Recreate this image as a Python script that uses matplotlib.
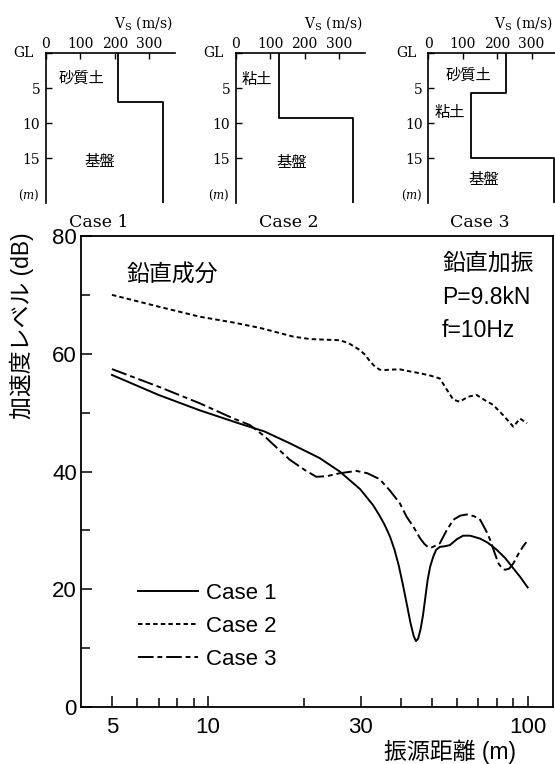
import matplotlib
matplotlib.use('Agg')
import matplotlib.pyplot as plt
from matplotlib.ticker import FixedLocator, NullFormatter

plt.rcParams['font.family'] = ['Liberation Sans', 'Noto Sans CJK JP']
plt.rcParams['mathtext.fontset'] = 'dejavuserif'

# ---- soil profiles (top panels) ----
profile_names = ['Case 1', 'Case 2', 'Case 3']
vs_case1 = [210, 340]
top_case1 = [0, 7.0]
vs_case2 = [125, 340]
top_case2 = [0, 9.3]
vs_case3 = [225, 125, 365]
top_case3 = [0, 5.7, 15.0]
depth_ticks = [0, 5, 10, 15]
vs_ticks = [0, 100, 200, 300]

# ---- attenuation curves (main panel) ----
dist_case1 = [5, 7, 9.4, 12.6, 15, 18.0, 22.3, 25.8, 29.9, 32.8, 34.4, 35.7, 37.1, 38.3,
              39.5, 40.6, 41.8, 43.0, 44.0, 44.7, 45.4, 46.2, 47.0, 47.8, 48.6, 49.5,
              50.6, 51.7, 53.1, 55.0, 57.1, 60.0, 62.8, 66.0, 71.0, 75.0, 80.0, 85.0,
              90.0, 95.0, 100.0]
db_case1 = [56.4, 53.0, 50.4, 48.1, 46.8, 44.8, 42.3, 40.0, 37.0, 34.3, 32.5, 30.9, 28.9,
            26.7, 24.0, 21.0, 17.6, 14.2, 12.0, 11.2, 11.6, 13.2, 15.5, 18.5, 21.5, 23.8,
            25.5, 26.7, 27.2, 27.3, 27.5, 28.5, 29.1, 29.1, 28.6, 27.9, 26.7, 25.3,
            23.6, 22.0, 20.3]

dist_case2 = [5, 7, 9.4, 12, 14.5, 18.5, 20.8, 23, 25.8, 27.5, 29.9, 31, 32, 33, 34.4,
              35.5, 37, 39.8, 42.8, 45.9, 49.5, 53.1, 56, 58.5, 61.3, 65, 69.2, 73, 78,
              84, 90.2, 94.6, 99.5]
db_case2 = [70.0, 68.0, 66.3, 65.3, 64.4, 62.9, 62.5, 62.4, 62.3, 61.8, 60.6, 59.8, 58.8,
            58.0, 57.3, 57.2, 57.3, 57.35, 57.0, 56.7, 56.3, 55.8, 53.8, 52.2, 51.85,
            52.7, 53.0, 52.2, 51.3, 49.5, 47.6, 49.0, 48.2]

dist_case3 = [5, 7, 9.4, 12, 13.5, 15, 18.0, 20, 21.8, 23.5, 25.8, 29.1, 31.5, 34.4, 37,
              39.8, 41.8, 43.9, 46, 47.5, 48.9, 50, 51, 53.1, 55.5, 58.5, 61.5, 64.4, 68,
              71, 74, 76.3, 79, 81, 83, 84.9, 87.5, 90.2, 93.5, 96.8, 99]
db_case3 = [57.4, 54.4, 51.6, 49.0, 47.9, 46.0, 42.0, 40.3, 39.1, 39.2, 39.7, 40.1, 39.7,
            38.7, 36.8, 34.6, 32.3, 30.6, 28.7, 27.7, 27.1, 27.1, 27.3, 27.8, 29.8, 31.8,
            32.5, 32.7, 32.4, 31.8, 30.0, 28.4, 26.0, 24.4, 23.6, 23.3, 23.5, 24.4, 26.0,
            27.3, 28.0]

x_major = [5, 10, 30, 100]
x_minor = [6, 7, 8, 9, 20, 40, 50, 60, 70, 80, 90]

W, H = 555, 764
fig = plt.figure(figsize=(W / 100, H / 100), dpi=100)

serif = 'DejaVu Serif'
cjk = 'Noto Sans CJK JP'
depth_max = 21.4

# top panel boxes in pixels: left, width, vs max
panel_px = [(45.7, 129.4, 375), (235.7, 129.0, 375), (428.3, 126.7, 368)]
profiles = [(vs_case1, top_case1), (vs_case2, top_case2), (vs_case3, top_case3)]
layer_labels = [
    [('砂質土', 105, 3.5), ('基盤', 157, 15.5)],
    [('粘土', 61, 3.8), ('基盤', 163, 15.6)],
    [('砂質土', 116, 3.1), ('粘土', 63, 8.5), ('基盤', 160, 18.1)],
]

for (left, width, vmax), (vs, tops), labels, name in zip(panel_px, profiles, layer_labels, profile_names):
    a = fig.add_axes([left / W, 1 - 203.0 / H, width / W, 149.7 / H])
    xs, ys = [], []
    bottoms = tops[1:] + [depth_max + 5]
    for v, t, b in zip(vs, tops, bottoms):
        xs += [v, v]
        ys += [t, b]
    a.plot(xs, ys, color='black', lw=1.3)
    a.set_xlim(0, vmax)
    a.set_ylim(depth_max, 0)
    for s in ['right', 'bottom']:
        a.spines[s].set_visible(False)
    for s in ['left', 'top']:
        a.spines[s].set_linewidth(1.2)
    a.xaxis.tick_top()
    a.set_xticks(vs_ticks)
    a.set_xticklabels([str(v) for v in vs_ticks], family=serif, fontsize=10)
    a.set_yticks(depth_ticks)
    a.set_yticklabels([''] + [str(d) for d in depth_ticks[1:]], family=serif, fontsize=10)
    a.tick_params(axis='x', direction='in', length=4, width=1, pad=1.5)
    a.tick_params(axis='y', direction='in', length=4, width=1, pad=4)
    a.text(-0.09, 0, 'GL', transform=a.get_yaxis_transform(), ha='right', va='center',
           family=serif, fontsize=10)
    a.text(-0.05, 20.3, '($m$)', transform=a.get_yaxis_transform(), ha='right', va='center',
           family=serif, fontsize=8.5)
    a.text(0.98, 1.2, r'V$_\mathrm{S}$ (m/s)', transform=a.transAxes, ha='right', va='center',
           family=serif, fontsize=10)
    a.text(0.41, -0.13, name, transform=a.transAxes, ha='center', va='center',
           family=serif, fontsize=12.5)
    for txt, xv, yv in labels:
        a.text(xv, yv, txt, ha='center', va='center', family=cjk, fontsize=11)

# ---- main chart ----
ax = fig.add_axes([81 / W, 57 / H, 472 / W, 471 / H])
ax.plot(dist_case1, db_case1, color='black', lw=1.4, label='Case 1')
ax.plot(dist_case2, db_case2, color='black', lw=1.4, dashes=(2.3, 1.6), label='Case 2')
ax.plot(dist_case3, db_case3, color='black', lw=1.4, dashes=(8, 2, 2.5, 2), label='Case 3')

ax.set_xscale('log')
ax.set_xlim(4, 120)
ax.set_ylim(0, 80)
ax.xaxis.set_major_locator(FixedLocator(x_major))
ax.xaxis.set_minor_locator(FixedLocator(x_minor))
ax.xaxis.set_minor_formatter(NullFormatter())
ax.set_xticklabels([str(v) for v in x_major])
ax.set_yticks([0, 20, 40, 60, 80])
ax.set_yticks([10, 30, 50, 70], minor=True)
ax.tick_params(which='major', direction='in', length=8, width=1.1, labelsize=16)
ax.tick_params(which='minor', direction='in', length=6.5, width=1.1)
ax.tick_params(axis='x', which='major', pad=7)
ax.tick_params(axis='y', which='major', pad=3)
for s in ax.spines.values():
    s.set_linewidth(1.3)

ax.set_xlabel('振源距離 (m)', fontsize=16.5, va='center')
ax.xaxis.set_label_coords(0.782, -0.096)
ax.set_ylabel('加速度レベル (dB)', fontsize=16.5, va='center')
ax.yaxis.set_label_coords(-0.125, 0.809)

ax.text(0.097, 0.917, '鉛直成分', transform=ax.transAxes, ha='left', va='center', fontsize=16.5)
ax.text(0.765, 0.943, '鉛直加振', transform=ax.transAxes, ha='left', va='center', fontsize=16.5)
ax.text(0.765, 0.870, 'P=9.8kN', transform=ax.transAxes, ha='left', va='center', fontsize=16.5)
ax.text(0.765, 0.800, 'f=10Hz', transform=ax.transAxes, ha='left', va='center', fontsize=16.5)

ax.legend(loc='upper left', bbox_to_anchor=(0.121, 0.264), frameon=False, fontsize=16,
          handlelength=2.7, handletextpad=0.35, labelspacing=0.55, borderpad=0,
          borderaxespad=0)

fig.savefig('out.png', dpi=100)
